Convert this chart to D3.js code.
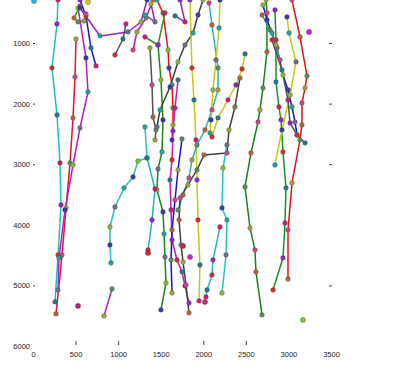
<!DOCTYPE html>
<html><head><meta charset="utf-8">
<script src="https://cdn.jsdelivr.net/npm/d3@7"></script>
<style>
html,body{margin:0;padding:0;background:#fff;}
svg text{font-family:"Liberation Sans",Arial,sans-serif;font-size:7.5px;fill:#222;}
</style></head>
<body><svg id="c" width="413" height="382"></svg>
<script>
// ---- data (x = horizontal value, y = depth value) ----
const xTickValues = [0, 500, 1000, 1500, 2000, 2500, 3000, 3500];
const xTickMarks = [500, 1000, 2000, 2500];
const yTickValues = [1000, 2000, 3000, 4000, 5000, 6000];
const yTickMarks = [1000, 2000, 3000, 5000];

const seriesX = [
  [294,282,223,282,317,329,294,258],
  [505,493,470,435,388,341,270],
  [529,622,646,552,470,376,305,294],
  [552,622,681,740],
  [552,482,529,599,622],
  [552,787,1116,1268,1339],
  [963,1057,1092],
  [1409,1327,1221,1175],
  [1456,1527,1586,1597,1633,1644,1644,1633],
  [1703,1668,1644,1633,1609,1621,1633,1691,1750,1785,1832],
  [1750,1703,1668,1633,1621,1633],
  [1468,1503,1527,1515,1468,1456,1527,1539,1550,1562,1503],
  [1315,1468,1550],
  [1374,1398,1409,1445,1433],
  [1997,1938,1879,1785,1703,1609,1492,1456],
  [1844,1867,1891,1914,1926,1938,1961,1950],
  [2067,2102,2173,2173,2102,2020,1926,1867,1832,1762,1703],
  [2196,2185,2149,2114,2091,2079],
  [2102,2173,2290,2384,2455,2490],
  [2431,2372,2302,2278,2008,1926,1820,1727,1715,1738,1762,1797,1832],
  [1315,1339,1233,1175,1069,963,904,904,916],
  [1339,1433,1398,1351],
  [928,834],
  [2278,2232,2220,2278,2267,2220],
  [2196,2114,2102,2044,2032],
  [2737,2748,2748,2701,2666,2643,2560,2490,2549,2607,2619,2690],
  [2701,2748,2807,2866,2936,2995,3042,3077,3101],
  [2842,2854,2854,2889,2913,2936,2971,2960,2936,2819],
  [3042,3136,3218,3195,3159,3159,3136,3042,2995,2995],
  [2983,3007,3089,3019,2924,2842],
  [2807,2924,2995,3019,3101,3195],
  [2690,2784,2854,2901],
  [1315,1433,1386],
  [1668,1785,1727]
];
const seriesY = [
  [290,686,1412,2188,2980,3673,4498,5273],
  [934,1561,2237,2980,3722,4498,5471],
  [422,1247,1808,2402,3013,3755,4547,5075],
  [290,554,1082,1379],
  [389,587,653,637,521],
  [422,884,818,653,290],
  [1198,934,686],
  [290,587,818,1115],
  [290,505,1115,1412,1693,2072,2353,2600],
  [1610,2072,2452,2930,3260,3755,4250,4580,4778,5009,5290],
  [2584,3095,3590,4085,4580,5125],
  [1033,1610,2270,2798,3079,3425,3788,4151,4531,4960,5405],
  [901,1033,505],
  [1082,1693,2221,2435,2600],
  [290,538,835,1033,1313,1726,2105,2386],
  [290,1412,1940,2600,3260,3920,4663,5257],
  [340,703,1412,1775,2105,2435,2683,2930,3227,3508,3755],
  [290,752,1280,1775,2270,2485],
  [2551,2237,1940,1693,1429,1181],
  [1577,2056,2435,2815,2848,3095,3343,3557,3920,4333,4613,4993,5455],
  [2386,2897,2947,3211,3392,3706,4036,4333,4630],
  [2897,3409,3920,4415],
  [5059,5504],
  [2683,3062,3722,3920,4498,5125],
  [4036,4580,4828,5075,5191],
  [290,505,1148,1742,2105,2303,2815,3376,4052,4415,4778,5488],
  [373,620,835,1082,1528,1775,2056,2303,2518],
  [455,950,1643,2056,2270,2798,3392,3970,4547,5075],
  [290,901,1544,1742,1990,2353,2600,3310,4085,4894],
  [571,835,1313,1858,2435,3013],
  [950,1445,1940,2320,2518,2650],
  [538,785,1033,1280],
  [538,653,356],
  [554,653,290]
];
const loneX = [12, 529, 3171, 3242, 1351, 1844, 1762, 2020, 646];
const loneY = [307, 5339, 5570, 818, 4465, 4531, 4349, 5273, 323];

// ---- styles ----
const lineColors = ["#1fbfbf","#e0142a","#b41ec8","#1a1ab4","#1ea01e","#a020c8","#505050","#c814b4",
  "#e01414","#d214b4","#1414c8","#148c14","#3c8c28","#505050","#404040","#c8c814","#28b4c0",
  "#c8c814","#c8c81e","#404040","#28c0c0","#1eb4b4","#b41eb4","#28c0c0","#28b4d2","#148214",
  "#1414c8","#14961e","#e01414","#c8c814","#505050","#28a0a0","#9628b4","#9628b4"];
const pointPalette = ["#c81e78","#3c3ca0","#5a8c5a","#8c28c8","#28a0a0","#a0a03c","#c83232",
  "#6e6e8c","#c8468c","#28788c","#8cb43c","#b4643c"];
const loneColors = ["#28b4e0","#c01e6e","#7cc83c","#b428c8","#c8283c","#c828c8","#c8283c","#c8287a","#c8c828"];

const svg = d3.select("#c");
const x = d3.scaleLinear().domain([0, 3500]).range([33, 331]);
const y = d3.scaleLinear().domain([0, 6000]).range([-17.6, 346]);

const line = d3.line().x(d => x(d[0])).y(d => y(d[1]));
const gLines = svg.append("g");
const gPts = svg.append("g");

seriesX.forEach((xs, i) => {
  const pts = xs.map((v, j) => [v, seriesY[i][j]]);
  gLines.append("path").attr("d", line(pts)).attr("fill", "none")
    .attr("stroke", lineColors[i]).attr("stroke-width", 1.5).attr("stroke-linejoin", "round");
  pts.forEach((p, j) => {
    gPts.append("circle").attr("cx", x(p[0])).attr("cy", y(p[1])).attr("r", 2.4)
      .attr("fill", pointPalette[(i * 5 + j * 3) % pointPalette.length])
      .attr("stroke", "#333").attr("stroke-opacity", 0.45).attr("stroke-width", 0.6);
  });
});
loneX.forEach((v, k) => {
  gPts.append("circle").attr("cx", x(v)).attr("cy", y(loneY[k])).attr("r", 2.6)
    .attr("fill", loneColors[k]).attr("stroke", "#333").attr("stroke-opacity", 0.45).attr("stroke-width", 0.6);
});

// ---- axes ----
const yAxis = d3.axisLeft(y).tickValues(yTickValues).tickSize(2).tickPadding(3).tickFormat(d3.format("d"));
const gy = svg.append("g").attr("transform", "translate(35,0)").call(yAxis);
gy.select(".domain").remove();
gy.selectAll(".tick line").attr("stroke", "#444")
  .attr("display", d => yTickMarks.includes(d) ? null : "none");
gy.selectAll(".tick text").attr("fill", "#222");

const yAxisR = d3.axisRight(y).tickValues(yTickMarks).tickSize(3).tickFormat("");
const gyr = svg.append("g").attr("transform", "translate(329,0)").call(yAxisR);
gyr.select(".domain").remove();
gyr.selectAll(".tick line").attr("stroke", "#444");

const xAxis = d3.axisBottom(x).tickValues(xTickValues).tickSize(4).tickPadding(7).tickFormat(d3.format("d"));
const gx = svg.append("g").attr("transform", "translate(0,341)").call(xAxis);
gx.select(".domain").remove();
gx.selectAll(".tick line").attr("stroke", "#444")
  .attr("display", d => xTickMarks.includes(d) ? null : "none");
gx.selectAll(".tick text").attr("fill", "#222");
</script></body></html>
